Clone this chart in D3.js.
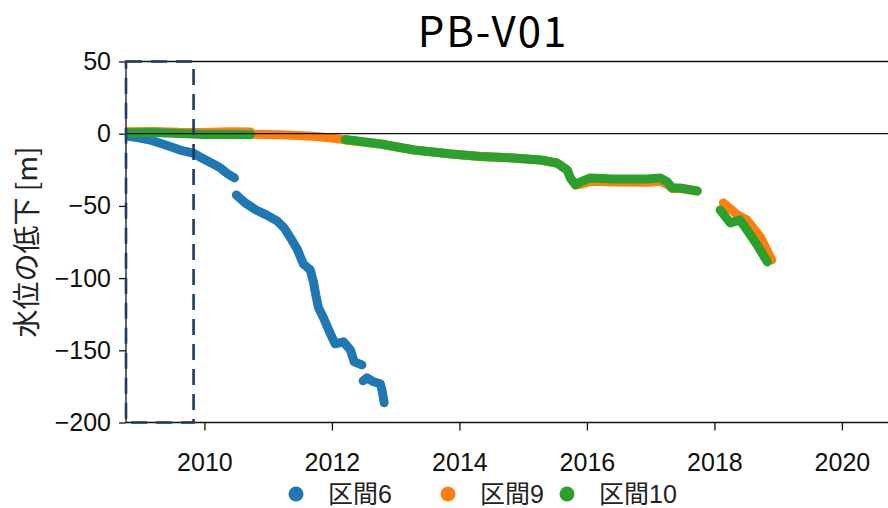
<!DOCTYPE html>
<html>
<head>
<meta charset="utf-8">
<script src="https://cdn.jsdelivr.net/npm/d3@7"></script>
<style>
  html, body { margin: 0; padding: 0; background: #fff; }
  svg { display: block; }
</style>
</head>
<body>
<svg id="chart" width="888" height="508"></svg>
<script>
// Water-level drop per monitoring section at well PB-V01 (metres, negative = lower)
const chartTitle = "PB-V01";
const yAxisLabel = "水位の低下 [m]";
const seriesNames = ["区間6", "区間9", "区間10"];

// null marks a break in the record
const section6Years  = [2008.79, 2008.99, 2009.15, 2009.39, 2009.62, 2009.82, 2009.93, 2010.14, 2010.25, 2010.37, 2010.47,
                        null,
                        2010.50, 2010.64, 2010.81, 2010.97, 2011.14, 2011.25, 2011.35, 2011.46, 2011.55, 2011.66,
                        2011.71, 2011.75, 2011.79, 2011.86, 2011.97, 2012.05, 2012.18, 2012.29, 2012.35, 2012.47,
                        null,
                        2012.49, 2012.55, 2012.65, 2012.76, 2012.79, 2012.82];
const section6Values = [-1.6, -3.0, -4.4, -7.8, -11.3, -13.4, -16.1, -21.0, -23.7, -27.9, -30.6,
                        null,
                        -42.4, -47.9, -52.8, -56.2, -60.4, -65.2, -72.1, -80.4, -90.1, -94.3,
                        -102.6, -112.3, -120.6, -126.8, -137.9, -145.5, -144.1, -149.7, -158.0, -160.1,
                        null,
                        -171.1, -169.1, -171.8, -173.2, -178.7, -186.3];

const section9Years  = [2008.79, 2009.2, 2009.6, 2010.0, 2010.4, 2010.72, 2010.76, 2011.2, 2011.7, 2012.0, 2012.21,
                        2012.76, 2013.29, 2013.87, 2014.33, 2014.84, 2015.27, 2015.53, 2015.69, 2015.74, 2015.82,
                        2015.90, 2016.05, 2016.41, 2016.95, 2017.15, 2017.26, 2017.34, 2017.46, 2017.73,
                        null,
                        2018.14, 2018.36, 2018.51, 2018.72, 2018.90];
const section9Values = [1.3, 1.6, 1.0, 0.9, 1.4, 1.2, -0.3, -0.8, -1.8, -3.0, -4.3,
                        -7.1, -11.3, -14.0, -15.8, -16.8, -18.2, -20.3, -25.1, -30.6, -35.5,
                        -35.0, -33.0, -33.5, -33.6, -33.0, -35.0, -38.0, -38.0, -39.8,
                        null,
                        -47.9, -56.2, -59.7, -71.5, -87.4];

const section10Years  = [2008.79, 2009.2, 2009.6, 2010.0, 2010.4, 2010.72,
                         null,
                         2012.21, 2012.76, 2013.29, 2013.87, 2014.33, 2014.84, 2015.27, 2015.53, 2015.69, 2015.74,
                         2015.82, 2015.90, 2016.05, 2016.41, 2016.95, 2017.15, 2017.26, 2017.34, 2017.46, 2017.73,
                         null,
                         2018.09, 2018.25, 2018.40, 2018.51, 2018.67, 2018.83];
const section10Values = [0.6, 0.8, 0.1, -0.5, -0.6, -0.7,
                         null,
                         -4.0, -7.1, -11.3, -14.0, -15.8, -16.8, -18.2, -20.3, -25.1, -30.6,
                         -35.5, -33.4, -30.6, -31.3, -31.3, -30.6, -33.4, -37.6, -37.6, -39.6,
                         null,
                         -52.8, -61.8, -59.7, -66.6, -77.0, -88.8];

// Period outlined by the dashed box (years)
const focusYears = [2008.77, 2009.83];

const xTicks = [2010, 2012, 2014, 2016, 2018, 2020];
const yTicks = [50, 0, -50, -100, -150, -200];
const xDomain = [2008.77, 2021];
const yDomain = [-200, 50];

const palette = ["#1f77b4", "#ff7f0e", "#2ca02c"];

const svg = d3.select("#chart");
const plot = { left: 126, top: 61.5, bottom: 422.5, right: 888 };

const x = d3.scaleLinear().domain(xDomain).range([plot.left, plot.left + (xDomain[1] - xDomain[0]) * 63.75]);
const y = d3.scaleLinear().domain(yDomain).range([plot.bottom, plot.top]);

const zip = (xs, vs) => xs.map((t, i) => ({ t, v: vs[i] }));
const series = [
  zip(section6Years, section6Values),
  zip(section9Years, section9Values),
  zip(section10Years, section10Values)
];

const tickFont = "'Liberation Sans', Arial, sans-serif";
const cjkFont = "'Noto Sans CJK JP', 'Noto Sans', sans-serif";

// clip marks to the plotting region
svg.append("defs").append("clipPath").attr("id", "plotClip")
  .append("rect")
  .attr("x", plot.left).attr("y", plot.top - 10)
  .attr("width", plot.right - plot.left).attr("height", plot.bottom - plot.top + 20);

// series drawn in order so 区間10 sits on top
const line = d3.line()
  .defined(d => d.t != null && d.v != null)
  .x(d => x(d.t))
  .y(d => y(d.v));

const marks = svg.append("g").attr("clip-path", "url(#plotClip)");
series.forEach((s, i) => {
  marks.append("path")
    .datum(s)
    .attr("d", line)
    .attr("fill", "none")
    .attr("stroke", palette[i])
    .attr("stroke-width", 9)
    .attr("stroke-linecap", "round")
    .attr("stroke-linejoin", "round");
});

// zero reference line
svg.append("line")
  .attr("x1", plot.left).attr("x2", plot.right)
  .attr("y1", y(0)).attr("y2", y(0))
  .attr("stroke", "#111").attr("stroke-width", 1.3);

// axes
const xAxis = d3.axisBottom(x).tickValues(xTicks).tickFormat(d3.format("d")).tickSize(8).tickPadding(23);
const yAxis = d3.axisLeft(y).tickValues(yTicks).tickFormat(d => (d < 0 ? "\u2212" + Math.abs(d) : String(d))).tickSize(7).tickPadding(8);

const gx = svg.append("g").attr("transform", `translate(0,${plot.bottom})`).call(xAxis);
const gy = svg.append("g").attr("transform", `translate(${plot.left},0)`).call(yAxis);
[gx, gy].forEach(g => {
  g.select(".domain").remove();
  g.selectAll(".tick line").attr("stroke", "#111").attr("stroke-width", 1.3);
  g.selectAll(".tick text")
    .attr("fill", "#111")
    .style("font-family", tickFont)
    .style("font-size", "25px");
});

// spines: left, top, bottom
svg.append("line").attr("x1", plot.left).attr("x2", plot.left).attr("y1", plot.top).attr("y2", plot.bottom)
  .attr("stroke", "#111").attr("stroke-width", 1.3);
svg.append("line").attr("x1", plot.left).attr("x2", plot.right).attr("y1", plot.top).attr("y2", plot.top)
  .attr("stroke", "#111").attr("stroke-width", 1.3);
svg.append("line").attr("x1", plot.left).attr("x2", plot.right).attr("y1", plot.bottom).attr("y2", plot.bottom)
  .attr("stroke", "#111").attr("stroke-width", 1.3);

// dashed box around the early period
svg.append("rect")
  .attr("x", x(focusYears[0])).attr("y", y(yDomain[1]))
  .attr("width", x(focusYears[1]) - x(focusYears[0]))
  .attr("height", y(yDomain[0]) - y(yDomain[1]))
  .attr("fill", "none")
  .attr("stroke", "#1f3a5f")
  .attr("stroke-width", 2.6)
  .attr("stroke-dasharray", "16,9");

// title
svg.append("text")
  .attr("x", 493).attr("y", 47)
  .attr("text-anchor", "middle")
  .style("font-family", cjkFont)
  .style("font-size", "42px")
  .style("letter-spacing", "2px")
  .attr("fill", "#000")
  .text(chartTitle);

// y-axis label
svg.append("text")
  .attr("transform", `translate(37,${(plot.top + plot.bottom) / 2}) rotate(-90)`)
  .attr("text-anchor", "middle")
  .style("font-family", cjkFont)
  .style("font-size", "28px")
  .attr("fill", "#222")
  .text(yAxisLabel);

// legend
const legendX = [296, 448, 567];
const legend = svg.append("g");
seriesNames.forEach((name, i) => {
  legend.append("circle")
    .attr("cx", legendX[i]).attr("cy", 494).attr("r", 7.5)
    .attr("fill", palette[i]);
  legend.append("text")
    .attr("x", legendX[i] + 32).attr("y", 494)
    .attr("dominant-baseline", "central")
    .style("font-family", "'Liberation Sans', 'Noto Sans CJK JP', sans-serif")
    .style("font-size", "25px")
    .attr("fill", "#222")
    .text(name);
});
</script>
</body>
</html>
